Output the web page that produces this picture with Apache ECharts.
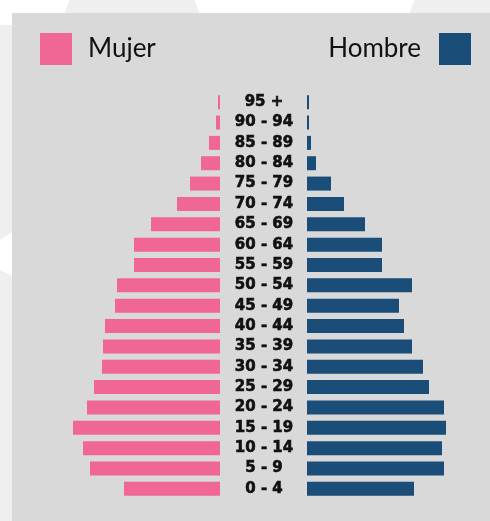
<!DOCTYPE html>
<html>
<head>
	<meta charset="UTF-8">
	<script src="https://cdn.jsdelivr.net/npm/echarts@6/dist/echarts.min.js"></script>
	<title></title>
	<style>html,body{margin:0;padding:0;background:#fff;}</style>
</head>
<body>
	<div id="main" style="height:521px;width:490px;"></div>
	<script type="text/javascript">
        // grupos de edad, de abajo hacia arriba
        var edades = ['0 - 4', '5 - 9', '10 - 14', '15 - 19', '20 - 24', '25 - 29', '30 - 34', '35 - 39', '40 - 44', '45 - 49',
            '50 - 54', '55 - 59', '60 - 64', '65 - 69', '70 - 74', '75 - 79', '80 - 84', '85 - 89', '90 - 94', '95 +'];
        var mujer = [9.6, 13.0, 13.7, 14.7, 13.3, 12.6, 11.8, 11.7, 11.5, 10.5, 10.3, 8.6, 8.6, 6.9, 4.3, 3.0, 1.9, 1.1, 0.4, 0.2];
        var hombre = [10.7, 13.7, 13.5, 13.9, 13.7, 12.2, 11.6, 10.5, 9.7, 9.2, 10.5, 7.5, 7.5, 5.8, 3.7, 2.4, 0.9, 0.4, 0.2, 0.2];
        var maxValor = 16;

        var rosa = '#f06694';
        var azul = '#1a4d78';

        var myChart = echarts.init(document.getElementById('main'));
        var option = {
            backgroundColor: '#ffffff',
            animation: false,
            // fondo: figuras claras detras del panel gris
            graphic: [
                { type: 'circle', z: -10, shape: { cx: 132, cy: 32, r: 70 }, style: { fill: '#efefef' } },
                { type: 'circle', z: -10, shape: { cx: 477, cy: 32, r: 70 }, style: { fill: '#efefef' } },
                { type: 'rect', z: -10, shape: { x: 0, y: 25, width: 12, height: 496 }, style: { fill: '#efefef' } },
                { type: 'polygon', z: -9, shape: { points: [[0, 240], [12, 232], [12, 276], [0, 270]] }, style: { fill: '#ffffff' } },
                { type: 'rect', z: -8, shape: { x: 12, y: 13, width: 478, height: 508 }, style: { fill: '#d9d9d9' } }
            ],
            legend: [
                {
                    data: ['Mujer'],
                    left: 40, top: 33, padding: 0,
                    itemWidth: 32, itemHeight: 32, icon: 'rect',
                    textStyle: { fontSize: 26, color: '#111', fontFamily: 'Lato', padding: [0, 0, 0, 11] }
                },
                {
                    data: ['Hombre'],
                    right: 19, top: 33, padding: 0, align: 'right',
                    itemWidth: 32, itemHeight: 32, icon: 'rect',
                    textStyle: { fontSize: 26, color: '#111', fontFamily: 'Lato', padding: [0, 13, 0, 0] }
                }
            ],
            grid: [
                { left: 60, right: 270, top: 92, bottom: 22 },
                { left: 307, right: 23, top: 92, bottom: 22 }
            ],
            xAxis: [
                { gridIndex: 0, type: 'value', min: 0, max: maxValor, inverse: true, show: false },
                { gridIndex: 1, type: 'value', min: 0, max: maxValor, show: false }
            ],
            yAxis: [
                {
                    gridIndex: 0, type: 'category', data: edades, position: 'right',
                    axisLine: { show: false }, axisTick: { show: false },
                    axisLabel: {
                        margin: 44, align: 'center', interval: 0,
                        fontSize: 15, fontWeight: 'bold', color: '#111', fontFamily: 'DejaVu Sans',
                        textBorderColor: '#111', textBorderWidth: 0.6
                    }
                },
                {
                    gridIndex: 1, type: 'category', data: edades,
                    axisLine: { show: false }, axisTick: { show: false }, axisLabel: { show: false }
                }
            ],
            series: [
                {
                    name: 'Mujer', type: 'bar', xAxisIndex: 0, yAxisIndex: 0,
                    barWidth: 14, itemStyle: { color: rosa }, data: mujer
                },
                {
                    name: 'Hombre', type: 'bar', xAxisIndex: 1, yAxisIndex: 1,
                    barWidth: 14, itemStyle: { color: azul }, data: hombre
                }
            ]
        };
        myChart.setOption(option);
	</script>
</body>
</html>
